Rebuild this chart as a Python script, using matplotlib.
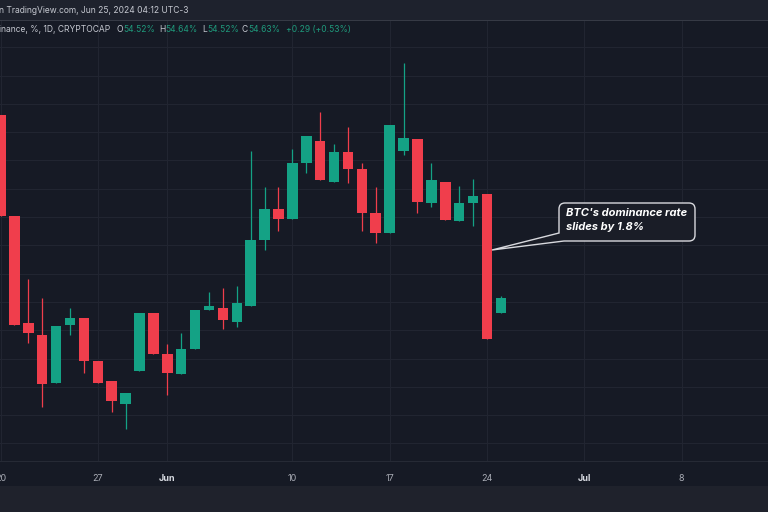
import numpy as np
import pandas as pd
import matplotlib
matplotlib.use('Agg')
import matplotlib.pyplot as plt
from matplotlib.path import Path
from matplotlib.patches import PathPatch, Rectangle
import matplotlib.transforms as mtransforms

# ---------------- data ----------------
dates = pd.date_range('2024-05-20', '2024-06-25', freq='D')
opens = [55.92, 55.21, 54.45, 54.37, 54.03, 54.44, 54.49, 54.18, 54.04, 53.88,
         54.11, 54.52, 54.23, 54.09, 54.27, 54.54, 54.56, 54.46, 54.57, 55.04,
         55.26, 55.19, 55.58, 55.74, 55.45, 55.66, 55.54, 55.23, 55.09, 55.67,
         55.75, 55.30, 55.45, 55.17, 55.30, 55.36, 54.52]
highs = [55.92, 55.21, 54.76, 54.63, 54.43, 54.56, 54.49, 54.18, 54.04, 53.96,
         54.52, 54.52, 54.30, 54.38, 54.54, 54.67, 54.70, 54.71, 55.67, 55.41,
         55.41, 55.68, 55.77, 55.94, 55.72, 55.84, 55.58, 55.41, 55.85, 56.29,
         55.75, 55.58, 55.45, 55.42, 55.47, 55.36, 54.64]
lows = [55.21, 54.44, 54.31, 53.86, 54.03, 54.37, 54.10, 54.03, 53.82, 53.70,
        54.11, 54.23, 53.94, 54.09, 54.27, 54.54, 54.41, 54.42, 54.57, 54.97,
        55.10, 55.19, 55.51, 55.46, 55.45, 55.44, 55.10, 55.02, 55.09, 55.64,
        55.23, 55.27, 55.18, 55.17, 55.14, 54.34, 54.52]
closes = [55.21, 54.44, 54.38, 54.02, 54.43, 54.49, 54.18, 54.03, 53.90, 53.96,
          54.52, 54.23, 54.10, 54.27, 54.54, 54.57, 54.47, 54.59, 55.04, 55.26,
          55.19, 55.58, 55.77, 55.46, 55.66, 55.54, 55.23, 55.09, 55.85, 55.76,
          55.31, 55.46, 55.18, 55.30, 55.35, 54.34, 54.63]

tick_dates = ['2024-05-20', '2024-05-27', '2024-06-01', '2024-06-10',
              '2024-06-17', '2024-06-24', '2024-07-01', '2024-07-08']
tick_labels = ['20', '27', 'Jun', '10', '17', '24', 'Jul', '8']
grid_values = [53.6, 53.8, 54.0, 54.2, 54.4, 54.6, 54.8, 55.0, 55.2, 55.4,
               55.6, 55.8, 56.0, 56.2, 56.4]

header_line1 = 'n TradingView.com, Jun 25, 2024 04:12 UTC-3'
header_symbol = 'inance, %, 1D, CRYPTOCAP'
note_lines = ["BTC's dominance rate", 'slides by 1.8%']

# ---------------- style ----------------
BG = '#161a25'
HEADER_BG = '#1e222d'
BOTTOM_BG = '#1f222c'
GRID = '#212531'
UP = '#14a285'
DOWN = '#f03e4c'
TXT = '#c5c8d0'
W, H = 768, 512

plt.rcParams['font.family'] = ['Inter', 'DejaVu Sans']

fig = plt.figure(figsize=(W / 100, H / 100), dpi=100)
fig.patch.set_facecolor(BG)

plot_top, plot_bottom = 21, 461
ax = fig.add_axes([0, (H - plot_bottom) / H, 1, (plot_bottom - plot_top) / H])
ax.set_facecolor(BG)

x = np.array([(d - dates[0]).days for d in dates])
o = np.array(opens); hi = np.array(highs); lo = np.array(lows); c = np.array(closes)
colors = [UP if cc >= oo else DOWN for oo, cc in zip(o, c)]

ax.vlines(x, lo, hi, colors=colors, linewidth=0.9, zorder=3)
ax.bar(x, np.abs(c - o), bottom=np.minimum(o, c), width=0.76,
       color=colors, linewidth=0, zorder=4)

# axis limits mapping (~13.9 px per day)
ax.set_xlim(-0.036, 55.22)
ax.set_ylim(53.476, 56.586)

tick_x = [(pd.Timestamp(t) - dates[0]).days for t in tick_dates]
ax.set_xticks(tick_x)
ax.set_xticklabels(tick_labels)
ax.set_yticks(grid_values)
ax.tick_params(axis='y', left=False, labelleft=False)
ax.tick_params(axis='x', length=0, pad=9.5, labelsize=6.5, colors='#a9acb5')
for lab in ax.get_xticklabels():
    if lab.get_text() in ('Jun', 'Jul'):
        lab.set_fontweight('bold')
        lab.set_color('#d6d9e0')
ax.grid(True, color=GRID, linewidth=0.8, zorder=0)
for s in ax.spines.values():
    s.set_visible(False)
ax.axhline(ax.get_ylim()[0], color='#262a35', linewidth=0.8, zorder=1, clip_on=False)

# pixel transform (image coords, y down)
pix = mtransforms.Affine2D().scale(1, -1).translate(0, H).scale(1 / W, 1 / H) + fig.transFigure

# header band and bottom strip
fig.patches.append(Rectangle((0, 0), W, 20, transform=pix, facecolor=HEADER_BG,
                             edgecolor='none', zorder=0))
fig.patches.append(Rectangle((0, 20), W, 1.2, transform=pix, facecolor='#363a45',
                             edgecolor='none', zorder=0))
fig.patches.append(Rectangle((0, 486), W, 26, transform=pix, facecolor=BOTTOM_BG,
                             edgecolor='none', zorder=0))

def ptext(px, py, s, **kw):
    fig.text(px / W, 1 - py / H, s, va='center', ha='left', **kw)

FS = 6.1
ptext(-1, 10.5, header_line1, fontsize=FS, color=TXT)
ptext(-1, 29.5, header_symbol, fontsize=FS, color=TXT)

chg = closes[-1] - closes[-2]
pct = chg / closes[-2] * 100
GREEN_TXT = '#1f9a7c'
parts = [(116.5, 'O', TXT), (123.5, f'{opens[-1]:.2f}%', GREEN_TXT),
         (159, 'H', TXT), (165.5, f'{highs[-1]:.2f}%', GREEN_TXT),
         (202.5, 'L', TXT), (207.5, f'{lows[-1]:.2f}%', GREEN_TXT),
         (242, 'C', TXT), (248.5, f'{closes[-1]:.2f}%', GREEN_TXT),
         (286.5, f'{chg:+.2f} ({pct:+.2f}%)', GREEN_TXT)]
for px_, s, col in parts:
    ptext(px_, 29.5, s, fontsize=FS, color=col)

# callout box
L, R, T, B, r = 559, 695, 203, 241, 6
tip = (492, 250)
verts = [(L + r, T), (R - r, T), (R, T), (R, T + r), (R, B - r), (R, B), (R - r, B),
         (L + 5, B), tip, (L, 233), (L, T + r), (L, T), (L + r, T), (L + r, T)]
codes = [Path.MOVETO, Path.LINETO, Path.CURVE3, Path.CURVE3, Path.LINETO,
         Path.CURVE3, Path.CURVE3, Path.LINETO, Path.LINETO, Path.LINETO,
         Path.LINETO, Path.CURVE3, Path.CURVE3, Path.CLOSEPOLY]
fig.patches.append(PathPatch(Path(verts, codes), transform=pix, facecolor='#1a1d27',
                             edgecolor='#d8d9de', linewidth=1.0, zorder=5))
ptext(566, 213.5, note_lines[0], fontsize=8.0, color='white', fontweight='bold',
      fontstyle='italic', zorder=6)
ptext(566, 227, note_lines[1], fontsize=8.0, color='white', fontweight='bold',
      fontstyle='italic', zorder=6)

fig.savefig('out.png', dpi=100, facecolor=fig.get_facecolor())
